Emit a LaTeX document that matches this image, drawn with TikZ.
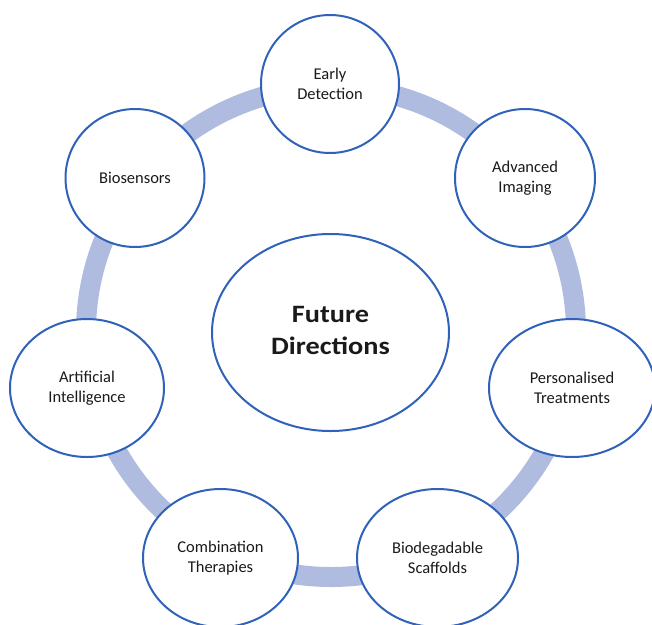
\documentclass[tikz,border=0pt]{standalone}
\usepackage{fontspec}
\setmainfont{Carlito}
\usepackage{graphicx}
\usetikzlibrary{shapes.geometric}
\definecolor{ringc}{HTML}{B0BBE0}
\definecolor{edgec}{HTML}{2F62B8}
\definecolor{txtc}{HTML}{1A1A1A}
\tikzset{
  sat/.style={ellipse, draw=edgec, line width=2pt, fill=white, inner sep=0pt,
    minimum height=138pt, align=center, text=txtc,
    font=\fontsize{16.5}{20}\selectfont},
  hub/.style={ellipse, draw=edgec, line width=2pt, fill=white, inner sep=0pt,
    minimum width=237pt, minimum height=197pt, align=center, text=txtc},
  ring/.style={draw=ringc, line width=20pt}
}
\begin{document}
\begin{tikzpicture}[x=1pt,y=-1pt]
\useasboundingbox (0,0) rectangle (652,624);
\coordinate (rc) at (331,332);
\draw[ring] (rc) circle[radius=245];
\node[hub] (hub) at (330.5,332.5) {\scalebox{1.13}[1]{\fontsize{25}{32}\selectfont\bfseries\begin{tabular}{@{}c@{}}Future\\Directions\end{tabular}}};
\node[sat, minimum width=138pt] (ed) at (330,84) {Early\\Detection};
\node[sat, minimum width=140pt] (ai2) at (525,178) {Advanced\\Imaging};
\node[sat, minimum width=166pt] (pt) at (572,388) {Personalised\\Treatments};
\node[sat, minimum width=161pt] (bs) at (437.5,558) {Biodegadable\\Scaffolds};
\node[sat, minimum width=155pt] (ct) at (220.5,558) {Combination\\Therapies};
\node[sat, minimum width=154pt] (ai) at (87,388) {Artificial\\Intelligence};
\node[sat, minimum width=139pt] (bio) at (135,178) {Biosensors};
\end{tikzpicture}
\end{document}
